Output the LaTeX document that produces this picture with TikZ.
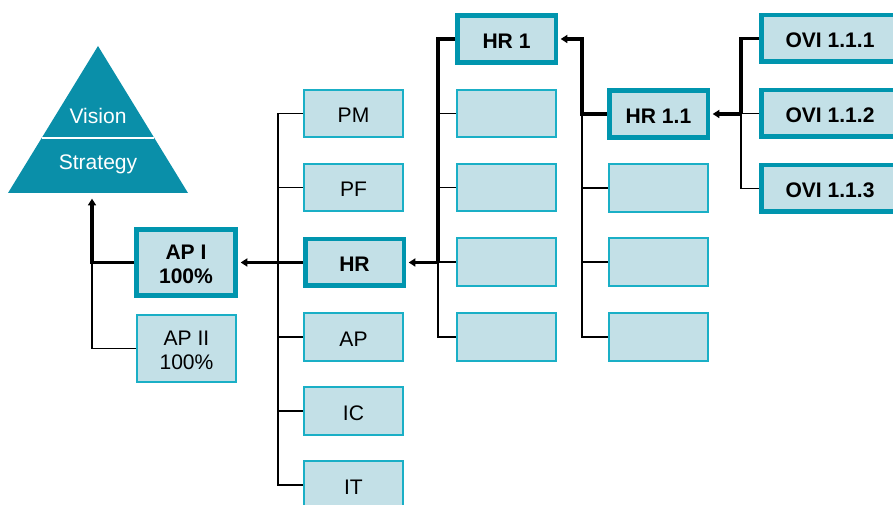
\documentclass[tikz,border=0pt]{standalone}
\usepackage{fontspec}
\setmainfont{Liberation Sans}
\usetikzlibrary{arrows.meta}
\definecolor{boxfill}{HTML}{C3E0E7}
\definecolor{thinedge}{HTML}{1AAFC6}
\definecolor{thickedge}{HTML}{0095AE}
\definecolor{tricol}{HTML}{0A8FA9}
\newcommand{\upstrut}{\rule{0pt}{0.9em}}
\tikzset{
  base/.style={rectangle, fill=boxfill, inner sep=0pt, align=center,
    font=\fontsize{15.8}{18}\selectfont},
  thinbox/.style={base, draw=thinedge, line width=1.5pt,
    minimum width=74.6pt, minimum height=35.6pt},
  thickbox/.style={base, draw=thickedge, line width=3.4pt,
    minimum width=74.6pt, minimum height=35.6pt, font=\fontsize{15.8}{18}\selectfont\bfseries},
  thinline/.style={draw=black, line width=1.2pt},
  thickline/.style={draw=black, line width=2.6pt},
  tip/.style={-{Triangle[length=5pt,width=6pt]}, shorten >=2pt},
}
\begin{document}
\begin{tikzpicture}[x=0.75pt,y=-0.75pt]
\useasboundingbox (0,0) rectangle (893,505);
\clip (0,0) rectangle (893,505);
% pyramid
\fill[tricol] (98,46) -- (188,193) -- (8,193) -- cycle;
\draw[white, line width=1.5pt] (41.7,138) -- (154.3,138);
\node[text=white, font=\fontsize{15.8}{18}\selectfont] (vision) at (98,116) {Vision};
\node[text=white, font=\fontsize{15.8}{18}\selectfont] (strategy) at (98,164) {Strategy};
\coordinate (pyr) at (92,196);
% level 1
\node[thickbox, minimum width=78pt-3.4pt, minimum height=53.2pt-3.4pt] (api) at (186,262.5) {\upstrut AP I\\100\%};
\node[thinbox, minimum width=75.8pt-1.5pt, minimum height=51.8pt-1.5pt] (apii) at (186.5,348.5) {\upstrut AP II\\100\%};
% level 2
\node[thinbox] (pm) at (353.5,113.5) {\upstrut PM};
\node[thinbox] (pf) at (353.5,187.5) {\upstrut PF};
\node[thickbox, minimum width=77.3pt-3.4pt, minimum height=38.3pt-3.4pt] (hr) at (354.5,262.5) {\upstrut HR};
\node[thinbox] (ap) at (353.5,337) {\upstrut AP};
\node[thinbox] (ic) at (353.5,411) {\upstrut IC};
\node[thinbox] (it) at (353.5,485) {\upstrut IT};
% level 3
\node[thickbox, minimum width=77.3pt-3.4pt, minimum height=39pt-3.4pt] (hra) at (506.5,39) {\upstrut HR 1};
\node[thinbox] (hrb) at (506.5,113.5) {};
\node[thinbox] (hrc) at (506.5,187.5) {};
\node[thinbox] (hrd) at (506.5,262) {};
\node[thinbox] (hre) at (506.5,337) {};
% level 4
\node[thickbox, minimum width=77.3pt-3.4pt, minimum height=39pt-3.4pt] (hrxa) at (658.5,114) {\upstrut HR 1.1};
\node[thinbox] (hrxb) at (658.5,188) {};
\node[thinbox] (hrxc) at (658.5,262) {};
\node[thinbox] (hrxd) at (658.5,337) {};
% level 5
\node[thickbox, minimum width=106.5pt-3.4pt, minimum height=38.3pt-3.4pt] (ovia) at (830,38.5) {\upstrut OVI 1.1.1};
\node[thickbox, minimum width=106.5pt-3.4pt, minimum height=38.3pt-3.4pt] (ovib) at (830,113.5) {\upstrut OVI 1.1.2};
\node[thickbox, minimum width=106.5pt-3.4pt, minimum height=38.3pt-3.4pt] (ovic) at (830,188.5) {\upstrut OVI 1.1.3};
% junction columns
\coordinate (c0) at (92,0);
\coordinate (c1) at (278,0);
\coordinate (c2) at (438,0);
\coordinate (c3) at (582,0);
\coordinate (c4) at (741,0);
% AP level to pyramid
\draw[thinline] (apii.west) -- (apii.west -| c0) -- (api.west -| c0);
\draw[thickline, tip] (api.west) -- (api.west -| c0) -- (pyr);
% middle column
\draw[thinline] (pm.west) -- (pm.west -| c1) -- (it.west -| c1) -- (it.west);
\draw[thinline] (pf.west) -- (pf.west -| c1);
\draw[thinline] (ap.west) -- (ap.west -| c1);
\draw[thinline] (ic.west) -- (ic.west -| c1);
\draw[thickline, tip] (hr.west) -- (api.east);
% HR 1 column
\draw[thinline] (hrd.west -| c2) -- (hre.west -| c2) -- (hre.west);
\draw[thinline] (hrb.west) -- (hrb.west -| c2);
\draw[thinline] (hrc.west) -- (hrc.west -| c2);
\draw[thinline] (hrd.west) -- (hrd.west -| c2);
\draw[thickline] (hra.west) -- (hra.west -| c2) -- (hr.east -| c2);
\draw[thickline, tip] (hr.east -| c2) -- (hr.east);
% HR 1.1 column
\draw[thinline] (hrxa.west -| c3) -- (hrxd.west -| c3) -- (hrxd.west);
\draw[thinline] (hrxb.west) -- (hrxb.west -| c3);
\draw[thinline] (hrxc.west) -- (hrxc.west -| c3);
\draw[thickline, tip] (hrxa.west) -- (hrxa.west -| c3) -- (hra.east -| c3) -- (hra.east);
% OVI column
\draw[thinline] (ovib.west) -- (ovib.west -| c4);
\draw[thinline] (ovic.west) -- (ovic.west -| c4) -- (hrxa.east -| c4);
\draw[thickline] (ovia.west) -- (ovia.west -| c4) -- (hrxa.east -| c4);
\draw[thickline, tip] (hrxa.east -| c4) -- (hrxa.east);
\end{tikzpicture}
\end{document}
